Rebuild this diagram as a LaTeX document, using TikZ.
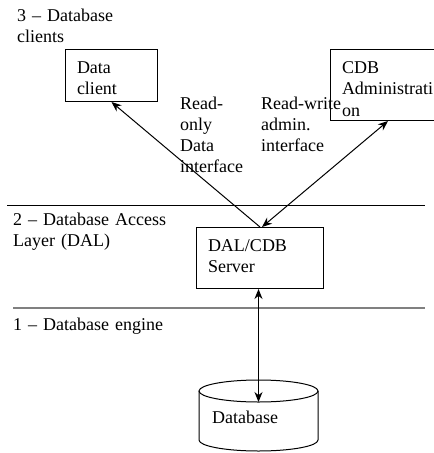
\documentclass[tikz,border=0pt]{standalone}
\usepackage{fontspec}
\setmainfont{Liberation Serif}
\usetikzlibrary{arrows.meta}

\begin{document}
\begin{tikzpicture}[x=1pt,y=-1pt,
  font=\fontsize{18}{21.3}\selectfont,
  >={Stealth[length=10pt,width=8pt]},
  box/.style={draw,line width=1pt,anchor=north west,inner xsep=11.5pt,inner ysep=0pt,align=left,text height=24pt},
  lbl/.style={anchor=base west,inner sep=0pt,align=left,text width=180pt}]
\clip (0,0) rectangle (434,453);

\draw[line width=1pt] (7,205) -- (425,205);
\draw[line width=1.5pt,gray] (13,308) -- (425,308);

\node[lbl] (l3) at (17,21) {3 – Database\\clients};
\node[lbl] (l2) at (13,225) {2 – Database Access\\Layer (DAL)};
\node[lbl] (l1) at (13,330) {1 – Database engine};

\node[box,text width=69pt,text depth=28pt] (client) at (65,49) {Data\\client};
\node[box,text width=92pt,text depth=47pt] (cdb) at (330,49) {CDB\\Administrati\\on};
\node[box,text width=104pt,text depth=37pt] (srv) at (196,227) {DAL/CDB\\Server};

\draw[line width=1pt] (258.5,391) ellipse[x radius=59.5,y radius=11];
\draw[line width=1pt] (199,391) -- (199,440) arc[start angle=180,end angle=0,x radius=59.5,y radius=11] -- (318,391);
\node[anchor=base west,inner sep=0pt] (db) at (212,423) {Database};
\coordinate (dbin) at (258.5,402);

\node[lbl] (ro) at (180,109) {Read-\\only\\Data\\interface};
\node[lbl] (rw) at (261,109) {Read-write\\admin.\\interface};

\draw[->,line width=1pt] (srv.north) -- (client.south);
\draw[<->,line width=1pt] ([xshift=2pt]srv.north) -- (cdb.south);
\draw[<->,line width=1pt] (srv.south -| dbin) -- (dbin);
\end{tikzpicture}
\end{document}
